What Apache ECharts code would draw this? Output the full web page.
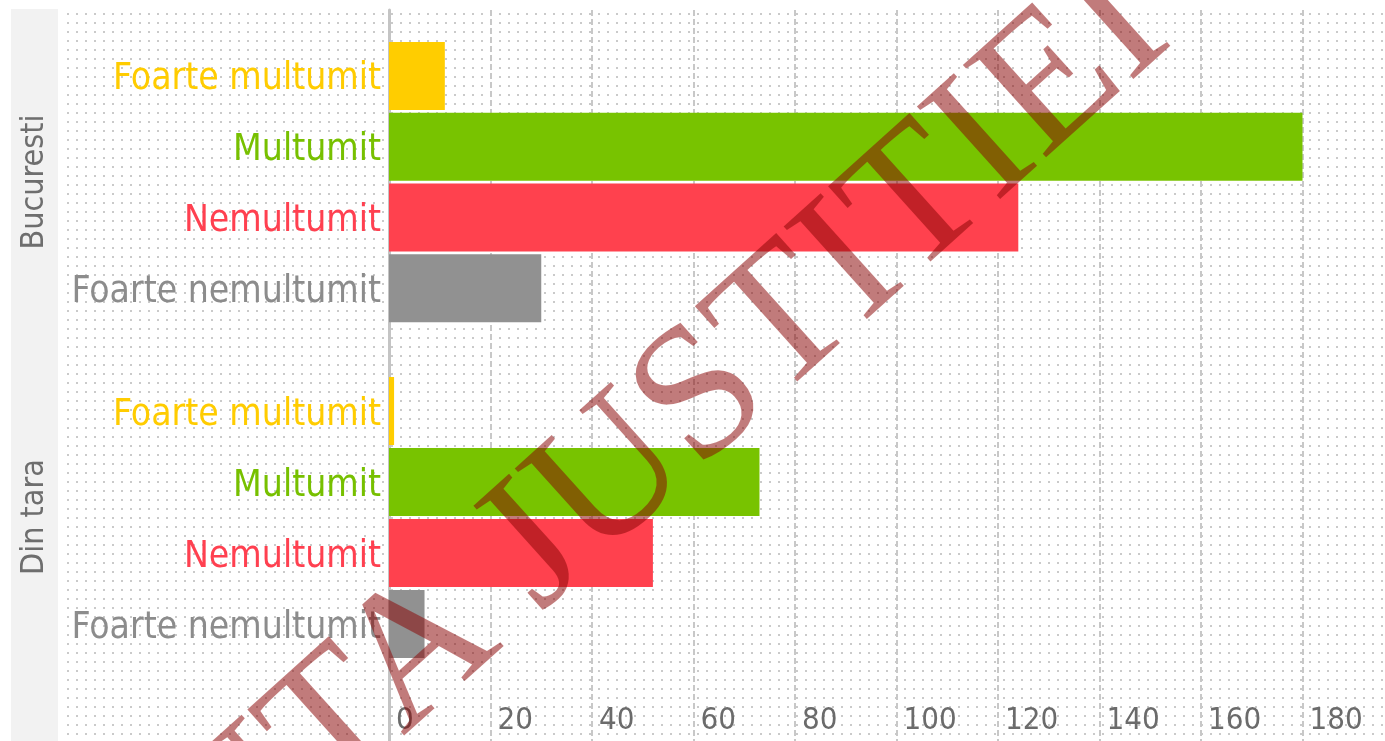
<!DOCTYPE html>
<html>
<head>
<meta charset="utf-8">
<title>Bucuresti / Din tara</title>
<script src="https://cdn.jsdelivr.net/npm/echarts@6/dist/echarts.min.js"></script>
<style>
	html, body { margin: 0; padding: 0; background: #fff; }
	#chart { width: 1385px; height: 741px; }
</style>
</head>
<body>
<div id="chart"></div>
<script>
var categories = ['Foarte multumit', 'Multumit', 'Nemultumit', 'Foarte nemultumit'];
var groups = ['Bucuresti', 'Din tara'];
var bucurestiValues = [11, 180, 124, 30];
var dinTaraValues = [1, 73, 52, 7];
var barColors = ['#ffcd00', '#78c300', '#ff414e', '#919191'];
var labelColors = ['#ffcc00', '#77c000', '#ff4050', '#8c8c8c'];
var axisMax = 200;
var axisStep = 20;

var narrow = '"DejaVu Sans Condensed", "Liberation Sans Narrow", "Liberation Sans", sans-serif';

// dotted background tile
var tile = document.createElement('canvas');
tile.width = 9;
tile.height = 9;
var tctx = tile.getContext('2d');
tctx.fillStyle = '#cacaca';
tctx.fillRect(4, 4, 2, 2);

function barData(values) {
	return values.map(function(v, i) {
		return { value: v, itemStyle: { color: barColors[i] } };
	});
}

// one rich style per category so every label gets its own colour
var labelRich = {};
labelColors.forEach(function(c, i) {
	labelRich['c' + i] = {
		color: c,
		fontFamily: narrow,
		fontSize: 37,
		padding: [8, 0, 0, 0]
	};
});

function catAxis(gridIndex) {
	return {
		type: 'category',
		gridIndex: gridIndex,
		data: categories,
		inverse: true,
		axisLine: { show: false },
		axisTick: { show: false },
		splitLine: { show: false },
		axisLabel: {
			margin: 8,
			formatter: function(value) {
				return '{c' + categories.indexOf(value) + '|' + value + '}';
			},
			rich: labelRich
		}
	};
}

function hiddenX(gridIndex) {
	return { type: 'value', gridIndex: gridIndex, min: 0, max: axisMax, interval: axisStep, show: false };
}

var myChart = echarts.init(document.getElementById('chart'));
var option = {
	animation: false,
	backgroundColor: '#fff',
	grid: [
		{ left: 389, right: -19, top: 10, bottom: 0, outerBoundsMode: 'none' },
		{ left: 389, right: -19, top: 40.5, height: 283, outerBoundsMode: 'none' },
		{ left: 389, right: -19, top: 375.5, height: 284, outerBoundsMode: 'none' }
	],
	xAxis: [{
		type: 'value',
		gridIndex: 0,
		min: 0,
		max: axisMax,
		interval: axisStep,
		axisLine: { show: false },
		axisTick: { show: false },
		axisLabel: {
			inside: true,
			margin: 5,
			align: 'left',
			padding: [0, 0, 0, 7],
			fontFamily: narrow,
			fontSize: 31,
			color: '#6b6b6b'
		},
		splitLine: {
			show: true,
			lineStyle: { color: '#c8c8c8', width: 2, type: [6, 3] }
		}
	}, hiddenX(1), hiddenX(2)],
	yAxis: [{
		type: 'value',
		gridIndex: 0,
		axisLine: { show: true, lineStyle: { color: '#c4c4c4', width: 3 } },
		axisTick: { show: false },
		axisLabel: { show: false },
		splitLine: { show: false }
	}, catAxis(1), catAxis(2)],
	series: [{
		name: groups[0],
		type: 'bar',
		xAxisIndex: 1,
		yAxisIndex: 1,
		barWidth: 68,
		data: barData(bucurestiValues)
	}, {
		name: groups[1],
		type: 'bar',
		xAxisIndex: 2,
		yAxisIndex: 2,
		barWidth: 68,
		data: barData(dinTaraValues)
	}],
	graphic: [{
		type: 'rect',
		z: -1,
		shape: { x: 11, y: 9, width: 47, height: 732 },
		style: { fill: '#f2f2f2' }
	}, {
		type: 'rect',
		z: -1,
		shape: { x: 64, y: 10, width: 1321, height: 731 },
		style: { fill: { image: tile, repeat: 'repeat' } }
	}, {
		type: 'text',
		x: 35,
		y: 182,
		rotation: Math.PI / 2,
		style: { text: groups[0], font: '32px ' + narrow, fill: '#6e6e6e', align: 'center', verticalAlign: 'middle' }
	}, {
		type: 'text',
		x: 35,
		y: 517,
		rotation: Math.PI / 2,
		style: { text: groups[1], font: '32px ' + narrow, fill: '#6e6e6e', align: 'center', verticalAlign: 'middle' }
	}, {
		type: 'text',
		z: 100,
		x: 1142,
		y: 4,
		rotation: 42 * Math.PI / 180,
		style: {
			text: 'INDEPENDENTA JUSTITIEI',
			font: '190px "Liberation Serif", serif',
			fill: 'rgba(137, 6, 6, 0.53)',
			align: 'right',
			verticalAlign: 'middle'
		}
	}]
};
myChart.setOption(option);
window.onresize = function() {
	myChart.resize();
};
</script>
</body>
</html>
